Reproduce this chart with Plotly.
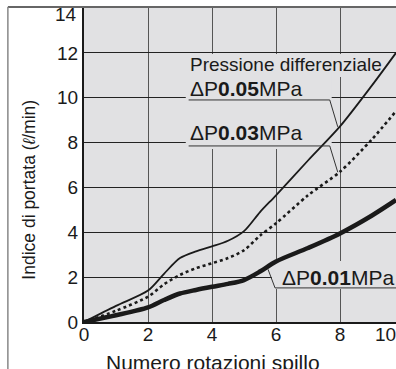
import plotly.graph_objects as go

# Numero rotazioni spillo vs indice di portata (l/min)
rotazioni = [0, 1, 2, 2.5, 3, 3.5, 4, 4.5, 5, 5.5, 6, 7, 8, 9, 9.75]
portata_005 = [0, 0.72, 1.4, 2.15, 2.85, 3.15, 3.37, 3.62, 4.05, 4.9, 5.65, 7.2, 8.72, 10.55, 12.0]
portata_003 = [0, 0.5, 1.13, 1.68, 2.1, 2.4, 2.62, 2.85, 3.2, 3.85, 4.4, 5.65, 6.7, 8.15, 9.4]
portata_001 = [0, 0.3, 0.65, 0.98, 1.27, 1.43, 1.57, 1.7, 1.87, 2.25, 2.7, 3.3, 3.95, 4.75, 5.44]

x_ticks = [0, 2, 4, 6, 8]
y_ticks = [0, 2, 4, 6, 8, 10, 12]

FONT = "Liberation Sans, Arial, sans-serif"
BG = "#e1e1e3"
INK = "#1a1a1a"

fig = go.Figure()

fig.add_trace(go.Scatter(x=rotazioni, y=portata_005, mode="lines",
                         line=dict(color=INK, width=1.8, shape="spline", smoothing=0.8)))
fig.add_trace(go.Scatter(x=rotazioni, y=portata_003, mode="lines",
                         line=dict(color=INK, width=2.6, dash="dot", shape="spline", smoothing=0.8)))
fig.add_trace(go.Scatter(x=rotazioni, y=portata_001, mode="lines",
                         line=dict(color=INK, width=4.5, shape="spline", smoothing=0.8)))

# label backgrounds hiding the grid behind the text
for x0, x1, y0, y1 in [(3.18, 7.74, 7.71, 11.95), (7.74, 9.3, 10.92, 11.95), (5.87, 9.75, 1.47, 2.72)]:
    fig.add_shape(type="rect", xref="x", yref="y", x0=x0, x1=x1, y0=y0, y1=y1,
                  fillcolor=BG, line_width=0, layer="between")

# underlines + leaders
leaders = [
    [(3.27, 9.9), (7.68, 9.9), (7.93, 8.7)],
    [(3.27, 7.85), (7.68, 7.85), (7.93, 6.68)],
    [(9.75, 1.52), (5.97, 1.52), (5.75, 2.35)],
]
for pts in leaders:
    for (xa, ya), (xb, yb) in zip(pts[:-1], pts[1:]):
        fig.add_shape(type="line", xref="x", yref="y", x0=xa, y0=ya, x1=xb, y1=yb,
                      line=dict(color="#333", width=1))

labels = [
    (3.27, 11.46, "Pressione differenziale", 19),
    (3.27, 10.43, "ΔP<b>0.05</b>MPa", 21),
    (3.27, 8.43, "ΔP<b>0.03</b>MPa", 21),
    (6.17, 2.0, "ΔP<b>0.01</b>MPa", 21),
]
for x, y, t, s in labels:
    fig.add_annotation(x=x, y=y, xref="x", yref="y", text=t, showarrow=False,
                       xanchor="left", yanchor="middle", borderpad=0,
                       font=dict(family=FONT, size=s, color=INK))

# end labels (top tick sits lower, last x tick is cut by the right edge)
fig.add_annotation(x=-0.016, y=0.978, xref="paper", yref="paper", text="14", showarrow=False,
                   xanchor="right", yanchor="middle", font=dict(family=FONT, size=19, color=INK))
fig.add_annotation(x=9.42, y=-0.04, xref="x", yref="paper", text="10", showarrow=False,
                   xanchor="center", yanchor="middle", font=dict(family=FONT, size=19, color=INK))

fig.add_annotation(x=-0.213, y=0.42, xref="paper", yref="paper",
                   text="Indice di portata (<i>ℓ</i>/min)", textangle=-90, showarrow=False,
                   font=dict(family=FONT, size=17.5, color=INK))
fig.add_annotation(x=0.412, y=-0.086, xref="paper", yref="paper",
                   text="Numero rotazioni spillo", showarrow=False,
                   xanchor="center", yanchor="top", font=dict(family=FONT, size=21, color=INK))

# outer frame
fig.add_shape(type="line", xref="paper", yref="paper", x0=-0.244, x1=1, y0=1.003, y1=1.003,
              line=dict(color="#333", width=1.5))
fig.add_shape(type="line", xref="paper", yref="paper", x0=-0.244, x1=-0.244, y0=1.003, y1=-0.16,
              line=dict(color="#888", width=1.5))

fig.update_layout(
    width=396, height=369,
    margin=dict(l=84, r=0, t=8, b=47),
    paper_bgcolor="white", plot_bgcolor=BG,
    showlegend=False,
    font=dict(family=FONT, size=19, color=INK),
)
fig.update_xaxes(range=[0, 9.75], tickvals=x_ticks, showgrid=True, gridcolor="#555", gridwidth=1,
                 zeroline=False, showline=True, linecolor=INK, linewidth=1.5, ticks="",
                 tickfont=dict(size=19), ticklabelstandoff=-6)
fig.update_yaxes(range=[0, 14], tickvals=y_ticks, showgrid=True, gridcolor="#222", gridwidth=1,
                 zeroline=False, showline=True, linecolor=INK, linewidth=2, ticks="",
                 tickfont=dict(size=19))

# drop the default body margin so the figure fills the window exactly
fig.write_html("out.html", config={"displayModeBar": False},
               post_script="document.body.style.margin='0';")
